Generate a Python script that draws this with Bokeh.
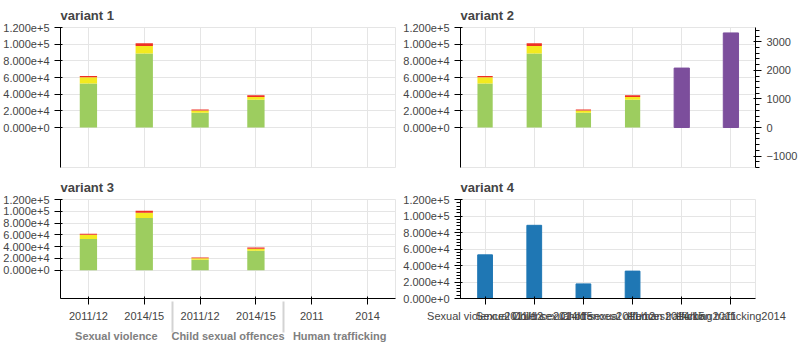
from bokeh.plotting import figure
from bokeh.layouts import gridplot
from bokeh.models import (FactorRange, Range1d, LinearAxis, FixedTicker,
                          ColumnDataSource)
from bokeh.embed import file_html
from bokeh.resources import INLINE

groups = ["Sexual violence", "Child sexual offences", "Human trafficking"]
periods = [["2011/12", "2014/15"], ["2011/12", "2014/15"], ["2011", "2014"]]
england_wales = [52900, 88700, 17700, 33200]
scotland = [7300, 9000, 2700, 3400]
northern_ireland = [1700, 3300, 1300, 2000]
uk = [2080, 3310]
left_ticks = [0, 20000, 40000, 60000, 80000, 100000, 120000]
colors = ["#9dcd5f", "#f3ea1f", "#ee3124", "#7c4e9c"]
factors = [(g, p) for g, ps in zip(groups, periods) for p in ps]


def make(variant):
    kw = dict(width=400, height=172, output_backend="svg", toolbar_location=None,
              title="variant %d" % variant)
    if variant == 4:
        p = figure(x_range=[f[0] + f[1] for f in factors], y_range=(0, 120000), **kw)
        p.vbar(x=[f[0] + f[1] for f in factors[:4]], top=england_wales, width=0.3)
        return p
    p = figure(x_range=FactorRange(*factors, factor_padding=0, group_padding=0,
                                   range_padding=0),
               y_range=Range1d(-48000, 120000),
               x_axis_location=("below" if variant == 3 else None), **kw)
    src = ColumnDataSource(dict(x=factors[:4], ew=england_wales, sc=scotland,
                                ni=northern_ireland))
    p.vbar_stack(["ew", "sc", "ni"], x="x", width=0.31, source=src,
                 color=colors[:3], line_color=None)
    p.yaxis[0].ticker = FixedTicker(ticks=left_ticks)
    if variant == 2:
        p.extra_y_ranges = {"uk": Range1d(-1400, 3500)}
        p.vbar(x=factors[4:], top=uk, width=0.31, color=colors[3], y_range_name="uk")
        p.add_layout(LinearAxis(y_range_name="uk"), "right")
    return p

grid = gridplot([[make(1), make(2)], [make(3), make(4)]], toolbar_location=None)
open("out.html", "w").write(file_html(grid, INLINE))
